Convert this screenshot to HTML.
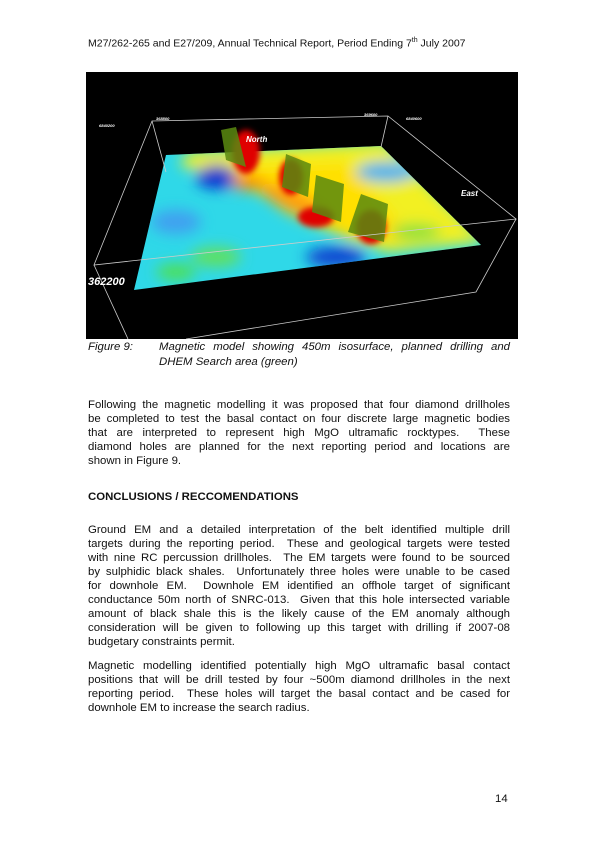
<!DOCTYPE html>
<html><head><meta charset="utf-8"><style>
body{margin:0;background:#fff;}
#page{position:relative;width:596px;height:842px;overflow:hidden;font-family:"Liberation Sans",Arial,sans-serif;color:#111;font-size:11.4px;}
.ln{position:absolute;left:88px;width:422px;height:14px;line-height:14px;white-space:nowrap;text-align:justify;text-align-last:justify;}
.ln.l{text-align-last:left;}
.cap{font-style:italic;}
</style></head><body>
<div id="page">
<div style="position:absolute;left:88px;top:37px;font-size:10.5px;">M27/262-265 and E27/209, Annual Technical Report, Period Ending 7<sup style="font-size:7px">th</sup> July 2007</div>

<svg style="position:absolute;left:86px;top:72px" width="432" height="267" viewBox="0 0 432 267">
<defs>
<clipPath id="q"><polygon points="80,83 295,74 395,173 48,218"/></clipPath>
<filter id="b"><feGaussianBlur stdDeviation="7"/></filter>
<filter id="b2"><feGaussianBlur stdDeviation="3"/></filter>
</defs>
<rect width="432" height="267" fill="#000"/>
<g clip-path="url(#q)">
<rect width="432" height="267" fill="#2fd8e8"/>
<g filter="url(#b)">
<polygon points="100,80 300,70 400,170 300,180 230,150 150,110" fill="#f2f020"/>
<polygon points="140,95 260,90 330,170 270,170 200,140" fill="#ffe000"/>
<ellipse cx="210" cy="130" rx="40" ry="10" fill="#ff9a10" transform="rotate(25 210 130)"/>
<ellipse cx="160" cy="110" rx="18" ry="8" fill="#ff8a00"/>
<ellipse cx="130" cy="105" rx="20" ry="12" fill="#1030d0"/>
<ellipse cx="250" cy="185" rx="30" ry="10" fill="#1040d0"/>
<ellipse cx="90" cy="150" rx="25" ry="12" fill="#40a0f0"/>
<ellipse cx="130" cy="185" rx="25" ry="10" fill="#60e060"/>
<ellipse cx="90" cy="200" rx="20" ry="8" fill="#50e050"/>
<ellipse cx="300" cy="100" rx="30" ry="10" fill="#40b0f0"/>
<ellipse cx="330" cy="160" rx="25" ry="8" fill="#80e040"/>
<ellipse cx="110" cy="90" rx="15" ry="8" fill="#f0f020"/>
</g>
</g>
<g filter="url(#b2)" fill="#e00000">
<ellipse cx="160" cy="80" rx="14" ry="22"/>
<ellipse cx="205" cy="105" rx="12" ry="18"/>
<ellipse cx="230" cy="145" rx="18" ry="10"/>
<ellipse cx="285" cy="155" rx="15" ry="17"/>
</g>
<g fill="#5a8a10" opacity="0.85">
<polygon points="135,58 150,55 160,95 140,88"/>
<polygon points="200,82 225,92 222,125 196,115"/>
<polygon points="230,103 258,112 255,150 226,140"/>
<polygon points="275,122 302,132 298,170 262,160"/>
</g>
<g fill="none" stroke="#ccc" stroke-width="0.8">
<polygon points="66,49 302,44 430,147 8,193"/>
<polyline points="8,193 42,267"/>
<polyline points="430,147 390,220 100,267"/>
<line x1="66" y1="49" x2="80" y2="100"/>
<line x1="302" y1="44" x2="295" y2="75"/>
</g>
<g fill="#fff" font-weight="bold" font-style="italic">
<text x="2" y="213" font-size="11">362200</text>
<text x="160" y="70" font-size="8">North</text>
<text x="375" y="124" font-size="8">East</text>
<text x="13" y="55" font-size="4">6840200</text>
<text x="70" y="48" font-size="4">368800</text>
<text x="278" y="44" font-size="4">369600</text>
<text x="320" y="48" font-size="4">6840600</text>
</g>
</svg>

<div class="ln l cap" style="top:340px;">Figure 9:</div>
<div class="ln cap" style="top:340px;left:159px;width:351px;">Magnetic model showing 450m isosurface, planned drilling and</div>
<div class="ln l cap" style="top:355px;left:159px;width:351px;">DHEM Search area (green)</div>

<div>
<div class="ln" style="top:398px">Following the magnetic modelling it was proposed that four diamond drillholes</div>
<div class="ln" style="top:412px">be completed to test the basal contact on four discrete large magnetic bodies</div>
<div class="ln" style="top:426px">that are interpreted to represent high MgO ultramafic rocktypes. &nbsp;These</div>
<div class="ln" style="top:440px">diamond holes are planned for the next reporting period and locations are</div>
<div class="ln l" style="top:454px">shown in Figure 9.</div>
</div>

<div class="ln l" style="top:490px;font-weight:bold;">CONCLUSIONS / RECCOMENDATIONS</div>

<div>
<div class="ln" style="top:523px">Ground EM and a detailed interpretation of the belt identified multiple drill</div>
<div class="ln" style="top:537px">targets during the reporting period. &nbsp;These and geological targets were tested</div>
<div class="ln" style="top:551px">with nine RC percussion drillholes. &nbsp;The EM targets were found to be sourced</div>
<div class="ln" style="top:565px">by sulphidic black shales. &nbsp;Unfortunately three holes were unable to be cased</div>
<div class="ln" style="top:579px">for downhole EM. &nbsp;Downhole EM identified an offhole target of significant</div>
<div class="ln" style="top:593px">conductance 50m north of SNRC-013. &nbsp;Given that this hole intersected variable</div>
<div class="ln" style="top:607px">amount of black shale this is the likely cause of the EM anomaly although</div>
<div class="ln" style="top:621px">consideration will be given to following up this target with drilling if 2007-08</div>
<div class="ln l" style="top:635px">budgetary constraints permit.</div>
</div>

<div>
<div class="ln" style="top:659px">Magnetic modelling identified potentially high MgO ultramafic basal contact</div>
<div class="ln" style="top:673px">positions that will be drill tested by four ~500m diamond drillholes in the next</div>
<div class="ln" style="top:687px">reporting period. &nbsp;These holes will target the basal contact and be cased for</div>
<div class="ln l" style="top:701px">downhole EM to increase the search radius.</div>
</div>

<div style="position:absolute;left:495px;top:793px;">14</div>
</div>
</body></html>
